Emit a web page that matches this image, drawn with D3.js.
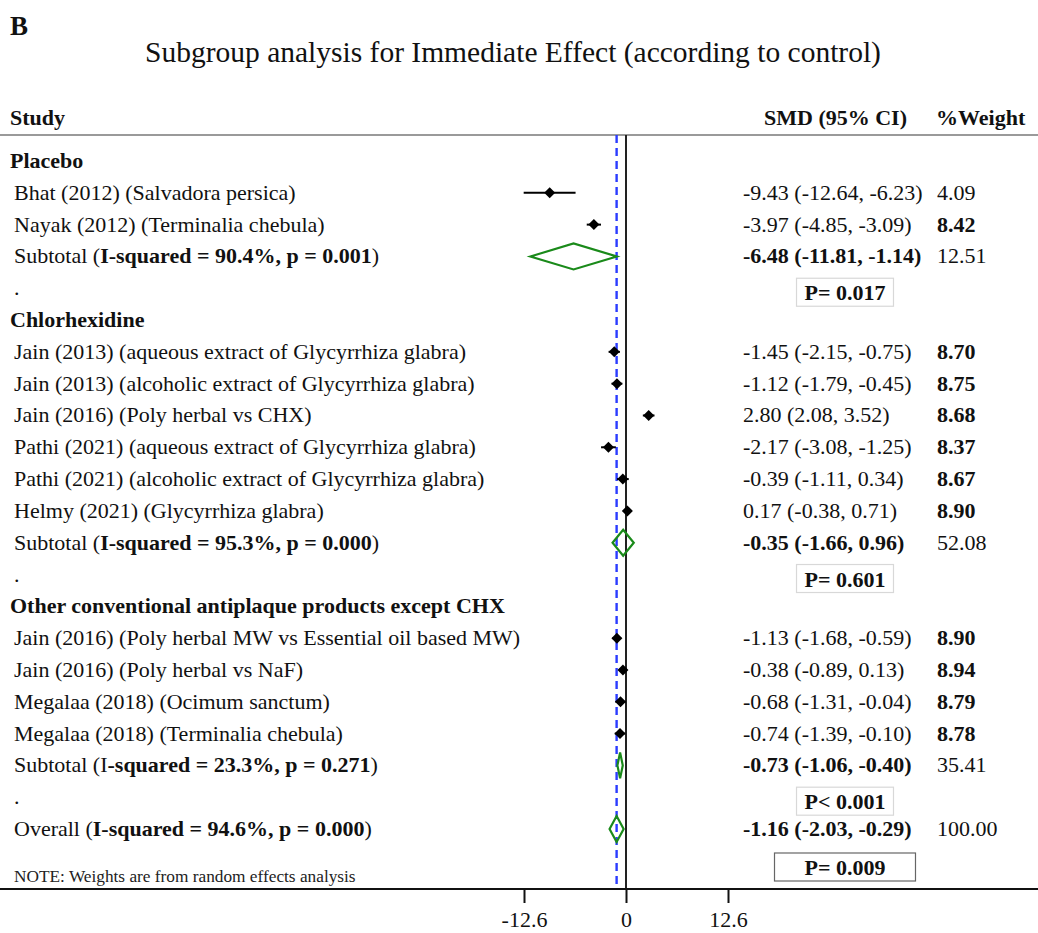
<!DOCTYPE html>
<html lang="en">
<head>
    <meta charset="UTF-8">
    <title>Subgroup analysis</title>
    <style>
        body, html { margin: 0; padding: 0; background: #fff; }
        svg text { font-family: "Liberation Serif", "Times New Roman", serif; fill: #111; }
    </style>
    <script src="https://d3js.org/d3.v7.min.js"></script>
</head>
<body>
<div id="chart"></div>
<script>
    // ---- data ----
    const groups = ["Placebo", "Chlorhexidine", "Other conventional antiplaque products except CHX"];
    const studies = [
        "Bhat (2012) (Salvadora persica)",
        "Nayak (2012) (Terminalia chebula)",
        "Jain (2013) (aqueous extract of Glycyrrhiza glabra)",
        "Jain (2013) (alcoholic extract of Glycyrrhiza glabra)",
        "Jain (2016) (Poly herbal vs CHX)",
        "Pathi (2021) (aqueous extract of Glycyrrhiza glabra)",
        "Pathi (2021) (alcoholic extract of Glycyrrhiza glabra)",
        "Helmy (2021) (Glycyrrhiza glabra)",
        "Jain (2016) (Poly herbal MW vs Essential oil based MW)",
        "Jain (2016) (Poly herbal vs NaF)",
        "Megalaa (2018) (Ocimum sanctum)",
        "Megalaa (2018) (Terminalia chebula)"
    ];
    const studyGroup = [0, 0, 1, 1, 1, 1, 1, 1, 2, 2, 2, 2];
    const smd    = [-9.43, -3.97, -1.45, -1.12, 2.80, -2.17, -0.39, 0.17, -1.13, -0.38, -0.68, -0.74];
    const lower  = [-12.64, -4.85, -2.15, -1.79, 2.08, -3.08, -1.11, -0.38, -1.68, -0.89, -1.31, -1.39];
    const upper  = [-6.23, -3.09, -0.75, -0.45, 3.52, -1.25, 0.34, 0.71, -0.59, 0.13, -0.04, -0.10];
    const weight = [4.09, 8.42, 8.70, 8.75, 8.68, 8.37, 8.67, 8.90, 8.90, 8.94, 8.79, 8.78];

    const subSmd    = [-6.48, -0.35, -0.73];
    const subLower  = [-11.81, -1.66, -1.06];
    const subUpper  = [-1.14, 0.96, -0.40];
    const subWeight = [12.51, 52.08, 35.41];
    const subI2     = ["90.4", "95.3", "23.3"];
    const subHetP   = ["0.001", "0.000", "0.271"];
    const subPText  = ["P= 0.017", "P= 0.601", "P< 0.001"];

    const overall = { smd: -1.16, lo: -2.03, hi: -0.29, weight: 100.00, i2: "94.6", p: "0.000", pText: "P= 0.009" };

    const xTicks = [-12.6, 0, 12.6];

    // ---- layout ----
    const width = 1038, height = 933;
    const svg = d3.select("#chart").append("svg")
        .attr("width", width).attr("height", height);

    // build row list
    const rows = [];
    groups.forEach((g, gi) => {
        rows.push({ type: "group", label: g });
        studies.forEach((s, i) => {
            if (studyGroup[i] === gi) rows.push({ type: "study", i });
        });
        rows.push({ type: "sub", gi });
        rows.push({ type: "dot", gi });
    });
    rows.push({ type: "overall" });

    const y = d3.scalePoint().domain(d3.range(rows.length)).range([161, 829]);
    const x = d3.scaleLinear().domain([-12.6, 12.6]).range([524, 728]);

    const topY = 135, axisY = 889;
    const fs = 22;
    const colSmd = 743, colW = 937;

    // title
    svg.append("text").attr("x", 10).attr("y", 35)
        .style("font-size", "27px").style("font-weight", "bold").text("B");
    svg.append("text").attr("x", 513).attr("y", 62).attr("text-anchor", "middle")
        .style("font-size", "29.5px").text("Subgroup analysis for Immediate Effect (according to control)");

    // header
    const hdr = svg.append("g").style("font-size", fs + "px").style("font-weight", "bold");
    hdr.append("text").attr("x", 10).attr("y", 125).text("Study");
    hdr.append("text").attr("x", 907).attr("y", 125).attr("text-anchor", "end").text("SMD (95% CI)");
    hdr.append("text").attr("x", 936).attr("y", 125).text("%Weight");

    svg.append("line").attr("x1", 0).attr("x2", width).attr("y1", topY).attr("y2", topY)
        .attr("stroke", "#9a9a9a").attr("stroke-width", 2);

    // reference lines
    svg.append("line").attr("x1", x(0)).attr("x2", x(0)).attr("y1", topY).attr("y2", axisY)
        .attr("stroke", "#222").attr("stroke-width", 2);
    svg.append("line").attr("x1", x(overall.smd)).attr("x2", x(overall.smd)).attr("y1", topY).attr("y2", axisY)
        .attr("stroke", "#2b3cff").attr("stroke-width", 2.4).attr("stroke-dasharray", "8,5");

    const fmt = v => v.toFixed(2);
    const ciText = (m, l, h) => `${fmt(m)} (${fmt(l)}, ${fmt(h)})`;
    const plainWeightRows = new Set([0]);
    const green = "#1a8a1a";

    const txt = svg.append("g").style("font-size", fs + "px");
    const marks = svg.append("g");

    function diamond(cx, lo, hi, yy, hh) {
        return `M${lo},${yy} L${cx},${yy - hh} L${hi},${yy} L${cx},${yy + hh} Z`;
    }

    rows.forEach((r, k) => {
        const yy = y(k);
        const base = yy + 7;
        if (r.type === "group") {
            txt.append("text").attr("x", 10).attr("y", base).style("font-weight", "bold").text(r.label);
        } else if (r.type === "study") {
            const i = r.i;
            txt.append("text").attr("x", 14).attr("y", base).text(studies[i]);
            txt.append("text").attr("x", colSmd).attr("y", base).text(ciText(smd[i], lower[i], upper[i]));
            txt.append("text").attr("x", colW).attr("y", base)
                .style("font-weight", plainWeightRows.has(i) ? "normal" : "bold").text(fmt(weight[i]));
            marks.append("line").attr("x1", x(lower[i])).attr("x2", x(upper[i]))
                .attr("y1", yy).attr("y2", yy).attr("stroke", "#000").attr("stroke-width", 2);
            marks.append("path").attr("d", diamond(x(smd[i]), x(smd[i]) - 5.5, x(smd[i]) + 5.5, yy, 5.5))
                .attr("fill", "#000");
        } else if (r.type === "sub") {
            const g = r.gi;
            const t = txt.append("text").attr("x", 14).attr("y", base);
            if (g === 2) {
                t.append("tspan").text("Subtotal (I");
                t.append("tspan").style("font-weight", "bold").text(`-squared = ${subI2[g]}%, p = ${subHetP[g]}`);
            } else {
                t.append("tspan").text("Subtotal (");
                t.append("tspan").style("font-weight", "bold").text(`I-squared = ${subI2[g]}%, p = ${subHetP[g]}`);
            }
            t.append("tspan").text(")");
            txt.append("text").attr("x", colSmd).attr("y", base).style("font-weight", "bold")
                .text(ciText(subSmd[g], subLower[g], subUpper[g]));
            txt.append("text").attr("x", colW).attr("y", base).text(fmt(subWeight[g]));
            marks.append("path").attr("d", diamond(x(subSmd[g]), x(subLower[g]), x(subUpper[g]), yy, 13))
                .attr("fill", "none").attr("stroke", green).attr("stroke-width", 2.2);
        } else if (r.type === "dot") {
            txt.append("text").attr("x", 14).attr("y", base).text(".");
            pBox(subPText[r.gi], yy + 4, 8, "#d8d8d8");
        } else if (r.type === "overall") {
            const t = txt.append("text").attr("x", 14).attr("y", base);
            t.append("tspan").text("Overall (");
            t.append("tspan").style("font-weight", "bold").text(`I-squared = ${overall.i2}%, p = ${overall.p}`);
            t.append("tspan").text(")");
            txt.append("text").attr("x", colSmd).attr("y", base).style("font-weight", "bold")
                .text(ciText(overall.smd, overall.lo, overall.hi));
            txt.append("text").attr("x", colW).attr("y", base).text(fmt(overall.weight));
            marks.append("path").attr("d", diamond(x(overall.smd), x(overall.lo), x(overall.hi), yy, 13))
                .attr("fill", "none").attr("stroke", green).attr("stroke-width", 2.2);
            pBox(overall.pText, yy + 38, 30, "#666");
        }
    });

    function pBox(label, cy, padX, stroke) {
        const g = svg.append("g");
        const rect = g.append("rect");
        const t = g.append("text").attr("x", 845).attr("y", cy + 8).attr("text-anchor", "middle")
            .style("font-size", fs + "px").style("font-weight", "bold").text(label);
        const bb = t.node().getBBox();
        rect.attr("x", bb.x - padX).attr("y", cy - 14).attr("width", bb.width + 2 * padX).attr("height", 28)
            .attr("fill", "#fff").attr("stroke", stroke).attr("stroke-width", 1.2);
    }

    // note
    svg.append("text").attr("x", 14).attr("y", 882).style("font-size", "17.3px").style("fill", "#222")
        .text("NOTE: Weights are from random effects analysis");

    // bottom axis
    svg.append("line").attr("x1", 0).attr("x2", width).attr("y1", axisY).attr("y2", axisY)
        .attr("stroke", "#111").attr("stroke-width", 2);
    const ax = svg.append("g").attr("transform", `translate(0,${axisY})`)
        .call(d3.axisBottom(x).tickValues(xTicks).tickSize(14).tickPadding(8)
            .tickFormat(d => d === 0 ? "0" : (d < 0 ? "-" : "") + Math.abs(d).toFixed(1)));
    ax.select(".domain").remove();
    ax.selectAll(".tick line").attr("stroke", "#111").attr("stroke-width", 2);
    ax.selectAll(".tick text").style("font-size", fs + "px").style("font-family", "Liberation Serif, serif").attr("fill", "#111");
</script>
</body>
</html>
